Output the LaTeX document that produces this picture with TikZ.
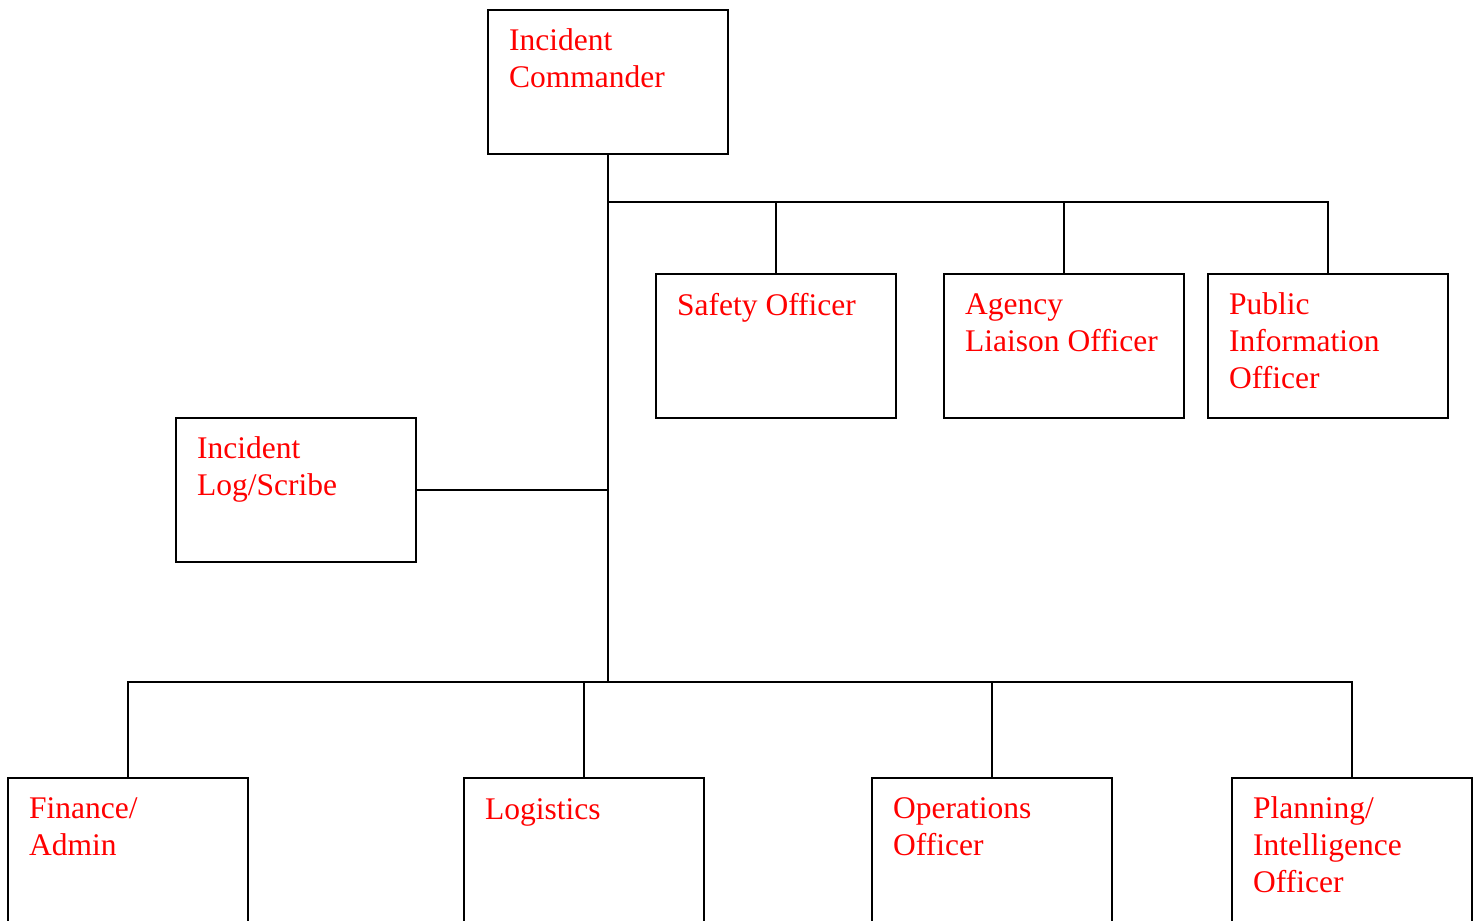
\documentclass[tikz,border=0pt]{standalone}
\usepackage{fontspec}
\setmainfont{Liberation Serif}
\begin{document}
\begin{tikzpicture}[x=1pt,y=-1pt,
  box/.style={draw, line width=2pt, minimum width=240pt, minimum height=144pt, anchor=north west, inner sep=0pt, outer sep=0pt},
  tallbox/.style={box, minimum height=170pt},
  lbl/.style={anchor=base west, inner sep=0pt, text=red, font=\fontsize{31.5}{37}\selectfont, align=left},
  conn/.style={line width=1.8pt}]
\useasboundingbox (0,0) rectangle (1481,921);
% boxes
\node[box] (ic) at (488,10) {};
\node[box] (safety) at (656,274) {};
\node[box] (agency) at (944,274) {};
\node[box] (pio) at (1208,274) {};
\node[box] (log) at (176,418) {};
\node[tallbox] (fin) at (8,778) {};
\node[tallbox] (logi) at (464,778) {};
\node[tallbox] (ops) at (872,778) {};
\node[tallbox] (plan) at (1232,778) {};
% labels (base anchor = baseline of the last line)
\node[lbl] (icT) at (509,87) {Incident\\Commander};
\node[lbl] (safetyT) at (677,315) {Safety Officer};
\node[lbl] (agencyT) at (965,351) {Agency\\Liaison Officer};
\node[lbl] (pioT) at (1229,388) {Public\\Information\\Officer};
\node[lbl] (logT) at (197,495) {Incident\\Log/Scribe};
\node[lbl] (finT) at (29,855) {Finance/\\Admin};
\node[lbl] (logiT) at (485,819) {Logistics};
\node[lbl] (opsT) at (893,855) {Operations\\Officer};
\node[lbl] (planT) at (1253,892) {Planning/\\Intelligence\\Officer};
% junctions
\coordinate (topbus) at (608,202);
\coordinate (midj) at (608,490);
\coordinate (botbus) at (608,682);
% connectors
\draw[conn] (ic.south) -- (botbus);
\draw[conn] (topbus) -| (pio.north);
\draw[conn] (safety.north) -- (safety.north |- topbus);
\draw[conn] (agency.north) -- (agency.north |- topbus);
\draw[conn] (log.east) -- (midj);
\draw[conn] (fin.north) |- (plan.north |- botbus) -- (plan.north);
\draw[conn] (logi.north) -- (logi.north |- botbus);
\draw[conn] (ops.north) -- (ops.north |- botbus);
\end{tikzpicture}
\end{document}
